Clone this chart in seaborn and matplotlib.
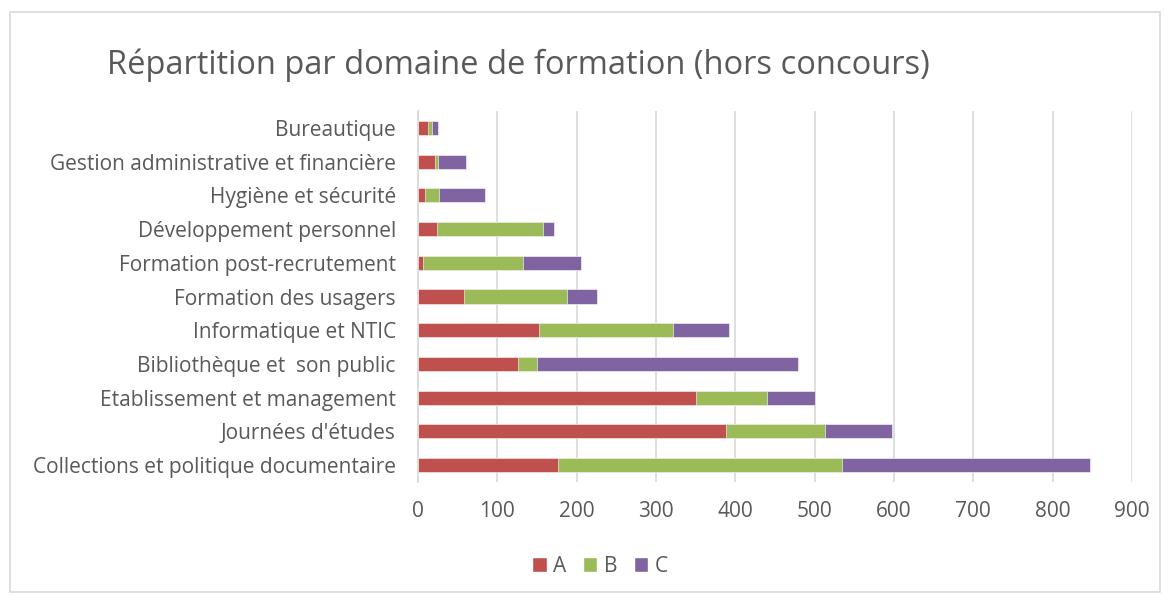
import seaborn as sns
import matplotlib.pyplot as plt
import pandas as pd
from matplotlib.patches import Rectangle, Patch

categories = ['Bureautique', 'Gestion administrative et financière', 'Hygiène et sécurité',
              'Développement personnel', 'Formation post-recrutement', 'Formation des usagers',
              'Informatique et NTIC', 'Bibliothèque et  son public', 'Etablissement et management',
              "Journées d'études", 'Collections et politique documentaire']
a_vals = [12, 22, 9, 24, 6, 58, 153, 126, 350, 388, 177]
b_vals = [6, 3, 18, 134, 126, 130, 168, 24, 90, 125, 358]
c_vals = [7, 36, 58, 14, 73, 37, 71, 329, 60, 84, 312]

colors = {'A': '#C0504D', 'B': '#9BBB59', 'C': '#8064A2'}
text_col = '#595959'

df = pd.DataFrame({'domaine': categories, 'A': a_vals, 'B': b_vals, 'C': c_vals})
df['AB'] = df['A'] + df['B']
df['ABC'] = df['AB'] + df['C']

sns.set_style('white')
plt.rcParams['font.family'] = ['Open Sans', 'DejaVu Sans']

fig = plt.figure(figsize=(11.65, 5.95), dpi=100)
ax = fig.add_axes([418 / 1165, 1 - 482 / 595, (1132 - 418) / 1165, (482 - 111) / 595])

# stacked bars: draw cumulative totals back to front
for col, key, z in [('ABC', 'C', 2), ('AB', 'B', 3), ('A', 'A', 4)]:
    sns.barplot(data=df, x=col, y='domaine', color=colors[key], saturation=1, width=0.42,
                ax=ax, edgecolor='white', linewidth=0.4, zorder=z)

ax.set_xlim(0, 900)
ax.set_xticks(range(0, 901, 100))
ax.set_ylim(len(categories) - 0.5, -0.5)
ax.xaxis.grid(True, color='#D9D9D9', linewidth=1.2, zorder=0)
ax.set_axisbelow(True)
for s in ['top', 'right', 'bottom']:
    ax.spines[s].set_visible(False)
ax.spines['left'].set_color('#D9D9D9')
ax.spines['left'].set_linewidth(1.2)
ax.tick_params(axis='x', length=0, colors=text_col, labelsize=15, pad=14)
ax.tick_params(axis='y', length=0, colors=text_col, labelsize=15, pad=16)
ax.set_xlabel('')
ax.set_ylabel('')

fig.text(107 / 1165, 1 - 65 / 595, 'Répartition par domaine de formation (hors concours)',
         fontsize=23.5, color=text_col, va='center', ha='left')

handles = [Patch(facecolor=colors[k], label=k) for k in ['A', 'B', 'C']]
fig.legend(handles=handles, loc='center', bbox_to_anchor=(600 / 1165, 1 - 566 / 595), ncol=3,
           frameon=False, fontsize=15, handlelength=0.7, handleheight=0.7, handletextpad=0.3,
           columnspacing=0.8, labelcolor=text_col)

fig.patches.append(Rectangle((10 / 1165, 3 / 595), 1150 / 1165, 580 / 595,
                             transform=fig.transFigure, fill=False, edgecolor='#D9D9D9',
                             linewidth=1.2))

fig.savefig('out.png', dpi=100, facecolor='white')
